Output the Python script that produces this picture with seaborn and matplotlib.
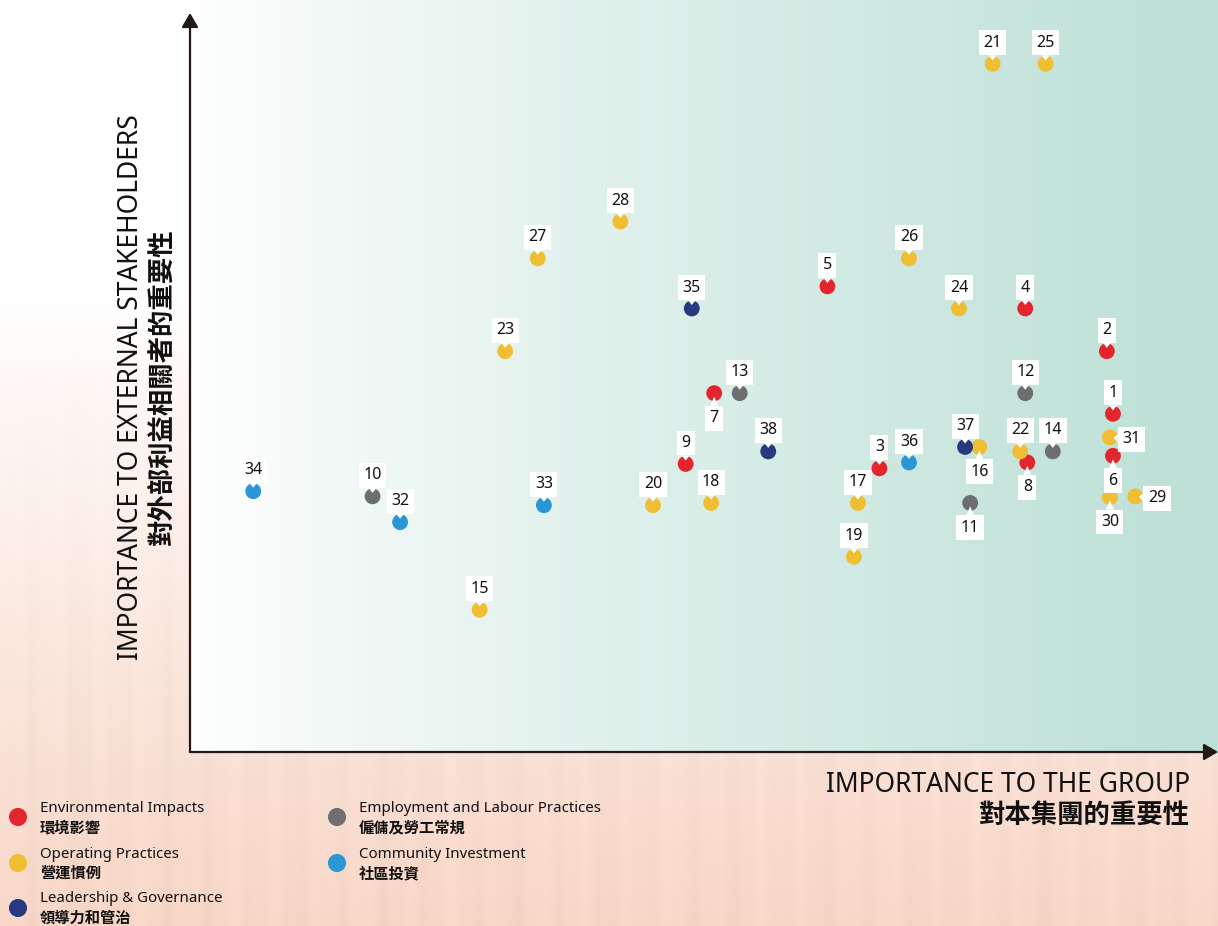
import numpy as np
import pandas as pd
import matplotlib
matplotlib.use("Agg")
import matplotlib.pyplot as plt
import seaborn as sns

# ---------------- data ----------------
ids = list(range(1, 39))
x_vals = [90.5, 89.9, 67.6, 81.9, 62.5, 90.5, 51.4, 82.1, 48.6, 17.9,
          76.5, 81.9, 53.9, 84.6, 28.4, 77.4, 65.5, 51.1, 65.1, 45.4,
          78.7, 81.4, 30.9, 75.4, 83.9, 70.5, 34.1, 42.2, 92.7, 90.2,
          90.2, 20.6, 34.7, 6.2, 49.2, 70.5, 76.0, 56.7]
y_vals = [45.9, 54.4, 38.5, 60.2, 63.2, 40.2, 48.7, 39.3, 39.1, 34.7,
          33.8, 48.7, 48.7, 40.8, 19.3, 41.4, 33.8, 33.8, 26.5, 33.5,
          93.4, 40.8, 54.4, 60.2, 93.4, 67.0, 67.0, 72.0, 34.7, 34.6,
          42.7, 31.2, 33.5, 35.4, 60.2, 39.3, 41.4, 40.8]
categories = ["Environmental Impacts", "Operating Practices",
              "Leadership & Governance", "Employment and Labour Practices",
              "Community Investment"]
categories_zh = ["環境影響", "營運慣例", "領導力和管治", "僱傭及勞工常規", "社區投資"]
colors = ["#e3262d", "#f0be32", "#283a7f", "#6d6e70", "#2a96d4"]
E, O, G, L, C = categories
point_cats = [E, E, E, E, E, E, E, E, E, L,
              L, L, L, L, O, O, O, O, O, O,
              O, O, O, O, O, O, O, O, O, O,
              O, C, C, C, G, C, G, G]
# label placement relative to the marker
label_side = {7: "down", 16: "down", 8: "down", 11: "down", 6: "down",
              30: "down", 31: "right", 29: "right"}

x_title = "IMPORTANCE TO THE GROUP"
x_title_zh = "對本集團的重要性"
y_title = "IMPORTANCE TO EXTERNAL STAKEHOLDERS"
y_title_zh = "對外部利益相關者的重要性"

df = pd.DataFrame({"id": ids, "x": x_vals, "y": y_vals, "cat": point_cats})

# ---------------- style ----------------
sns.set_style("white")
plt.rcParams["font.family"] = ["Noto Sans", "Noto Sans CJK TC", "DejaVu Sans"]
W, H = 1218, 926
fig = plt.figure(figsize=(W / 100, H / 100), dpi=100)

# background gradient
yy, xx = np.mgrid[0:H, 0:W].astype(float)
white = np.array([1.0, 1.0, 1.0])
teal = np.array([188, 224, 214]) / 255
peach = np.array([247, 214, 198]) / 255
inside = (xx >= 190) & (yy <= 752)
t = np.clip((xx - 190) / (W - 190), 0, 1) ** 0.85
p = np.clip((yy - 300) / (H - 300), 0, 1) ** 0.9
p = np.where(yy > 752, np.maximum(p, 0.75), p)
stripes = (0.5 * np.sin(xx / 7.0) + 0.3 * np.sin(xx / 3.1 + 1.0) + 0.2 * np.sin(xx / 17.0)) * 0.015
img_in = white * (1 - t[..., None]) + teal * t[..., None]
img_out = white * (1 - p[..., None]) + peach * p[..., None]
img_out = img_out + (stripes * p)[..., None]
img = np.where(inside[..., None], img_in, img_out)
img = np.clip(img, 0, 1)
bg = fig.add_axes([0, 0, 1, 1], zorder=0)
bg.imshow(img, aspect="auto", interpolation="bilinear")
bg.axis("off")

# main axes
ax = fig.add_axes([190 / W, (H - 752) / H, (W - 190) / W, (752 - 13) / H], zorder=1)
ax.patch.set_alpha(0)
sns.scatterplot(data=df, x="x", y="y", hue="cat",
                palette=dict(zip(categories, colors)), s=130,
                edgecolor="none", linewidth=0, legend=False, ax=ax, zorder=2)
ax.set_xlim(0, 100.8)
ax.set_ylim(0, 100.3)
ax.axis("off")

for _, r in df.iterrows():
    side = label_side.get(int(r["id"]), "up")
    off = {"up": (0, 16.5), "down": (0, -16.5), "right": (15.5, 0)}[side]
    ax.annotate(str(int(r["id"])), xy=(r["x"], r["y"]), xytext=off,
                textcoords="offset points", ha="center", va="center_baseline",
                fontsize=11.5, color="#111111", zorder=3,
                bbox=dict(boxstyle="square,pad=0.28", fc="white", ec="none"),
                arrowprops=dict(arrowstyle="wedge,tail_width=0.5", fc="white",
                                ec="none", shrinkA=0, shrinkB=2.5))

# axis arrows
arrow_kw = dict(arrowstyle="-|>,head_length=0.85,head_width=0.5", color="#231815",
                lw=1.6, shrinkA=0, shrinkB=0, mutation_scale=10)
ax.annotate("", xy=(1, 0), xytext=(0, 0), xycoords="axes fraction",
            arrowprops=arrow_kw, annotation_clip=False)
ax.annotate("", xy=(0, 1), xytext=(0, 0), xycoords="axes fraction",
            arrowprops=arrow_kw, annotation_clip=False)

# axis titles
fig.text(131 / W, 1 - 387 / H, y_title, rotation=90, ha="center", va="center",
         fontsize=19, color="#111111")
fig.text(163 / W, 1 - 387 / H, y_title_zh, rotation=90, ha="center", va="center",
         fontsize=19, fontweight="bold", family="Noto Sans CJK TC", color="#111111")
fig.text(1190 / W, 1 - 785 / H, x_title, ha="right", va="center",
         fontsize=19, color="#111111")
fig.text(1190 / W, 1 - 816 / H, x_title_zh, ha="right", va="center",
         fontsize=19, fontweight="bold", family="Noto Sans CJK TC", color="#111111")

# legend
leg = fig.add_axes([0, 0, 1, 1], zorder=2)
leg.set_xlim(0, W)
leg.set_ylim(H, 0)
leg.axis("off")
leg.patch.set_alpha(0)
leg_pos = [(18, 817), (18, 863), (18, 908), (337, 817), (337, 863)]
for (lx, ly), en, zh, col in zip(leg_pos, categories, categories_zh, colors):
    leg.scatter([lx], [ly], s=170, color=col, edgecolor="none")
    leg.text(lx + 22, ly - 9, en, ha="left", va="center", fontsize=10.8, color="#111111")
    leg.text(lx + 22, ly + 10, zh, ha="left", va="center", fontsize=11,
             fontweight="bold", family="Noto Sans CJK TC", color="#111111")

fig.savefig("out.png", dpi=100)
